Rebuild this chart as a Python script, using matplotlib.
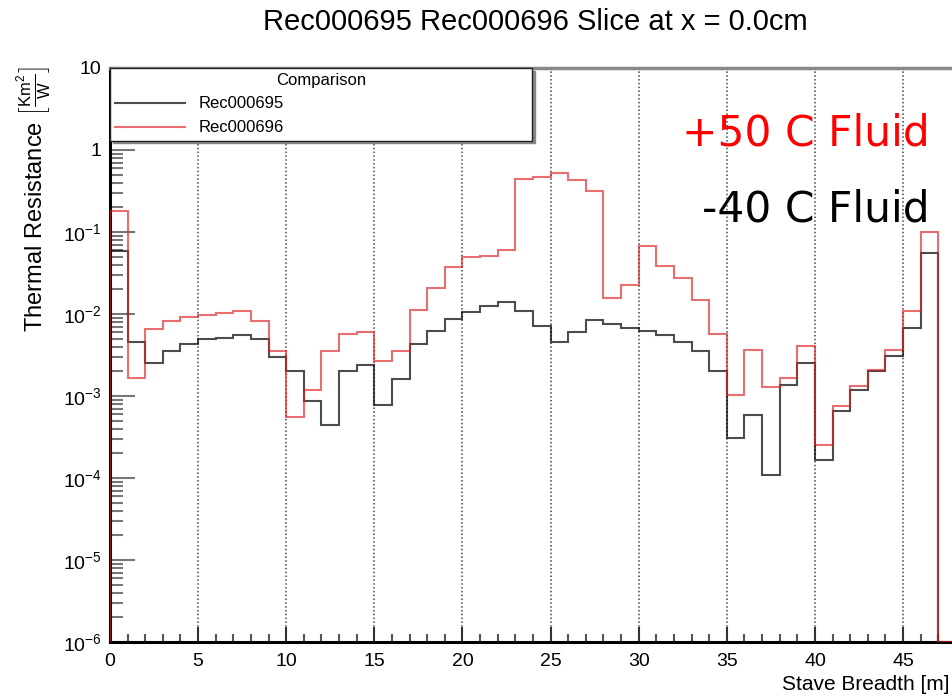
import numpy as np
import matplotlib
matplotlib.use("Agg")
import matplotlib.pyplot as plt
from matplotlib.ticker import FixedLocator, MultipleLocator, FuncFormatter, NullFormatter

plt.rcParams['font.family'] = ['Liberation Sans', 'DejaVu Sans']
plt.rcParams['mathtext.fontset'] = 'custom'
plt.rcParams['mathtext.rm'] = 'Liberation Sans'
plt.rcParams['mathtext.it'] = 'Liberation Sans:italic'
plt.rcParams['mathtext.bf'] = 'Liberation Sans:bold'

# ---- data ----
bin_edges = np.arange(0, 49)  # 48 bins of width 1 (last bin empty)
rec695 = [0.058, 0.0045, 0.0025, 0.0035, 0.0043, 0.0049, 0.0051, 0.0056, 0.0049, 0.0030,
          0.0020, 0.00088, 0.00044, 0.0020, 0.0024, 0.00078, 0.0016, 0.0043, 0.0062, 0.0088,
          0.0106, 0.0125, 0.0141, 0.0109, 0.0071, 0.0046, 0.0060, 0.0084, 0.0075, 0.0068,
          0.0062, 0.0056, 0.0046, 0.0035, 0.0020, 0.00031, 0.00059, 0.00011, 0.00135, 0.0025,
          0.000165, 0.00066, 0.0012, 0.0020, 0.0031, 0.0068, 0.055, 0.0]
rec696 = [0.178, 0.00167, 0.0065, 0.0082, 0.0093, 0.0097, 0.0104, 0.011, 0.0082, 0.0035,
          0.00055, 0.00119, 0.0035, 0.0057, 0.0061, 0.0027, 0.0035, 0.0112, 0.0208, 0.0377,
          0.049, 0.051, 0.061, 0.437, 0.468, 0.529, 0.426, 0.312, 0.0156, 0.0227,
          0.068, 0.039, 0.0271, 0.0148, 0.0057, 0.00104, 0.0036, 0.00128, 0.00167, 0.0041,
          0.00025, 0.00076, 0.00132, 0.0021, 0.0036, 0.0109, 0.100, 0.0]
series_names = ["Rec000695", "Rec000696"]
title = "Rec000695 Rec000696 Slice at x = 0.0cm"
y_decades = [-6, -5, -4, -3, -2, -1, 0, 1]

YMIN, YMAX = 1e-6, 10
XMIN, XMAX = 0, 48

W, H = 953, 696
fig = plt.figure(figsize=(W / 100, H / 100), dpi=100)
ax = fig.add_axes([110 / W, 1 - 642 / H, 846 / W, (642 - 68) / H])

def clip(v):
    return np.maximum(np.asarray(v, dtype=float), YMIN)

ax.stairs(clip(rec695), bin_edges, baseline=YMIN, color='black', alpha=0.7,
          linewidth=1.5, label=series_names[0], zorder=3)
ax.stairs(clip(rec696), bin_edges, baseline=YMIN, color='#dd2222', alpha=0.65,
          linewidth=1.5, label=series_names[1], zorder=4)

ax.set_yscale('log')
ax.set_xlim(XMIN, XMAX)
ax.set_ylim(YMIN, YMAX)

# ticks
ax.xaxis.set_major_locator(MultipleLocator(5))
ax.xaxis.set_minor_locator(MultipleLocator(1))
major_y = [10.0 ** k for k in y_decades]
minor_y = [m * 10.0 ** k for k in y_decades[:-1] for m in range(2, 10)]
ax.yaxis.set_major_locator(FixedLocator(major_y))
ax.yaxis.set_minor_locator(FixedLocator(minor_y))
ax.yaxis.set_minor_formatter(NullFormatter())

def yfmt(v, pos):
    k = int(round(np.log10(v)))
    if k == 1:
        return '10'
    if k == 0:
        return '1'
    return r'$10^{%d}$' % k
ax.yaxis.set_major_formatter(FuncFormatter(yfmt))

ax.tick_params(axis='y', which='major', direction='in', length=18, width=1.5,
               color='#777777', labelsize=14, pad=6, left=True, right=False)
ax.tick_params(axis='y', which='minor', direction='in', length=9, width=1.5,
               color='#777777', left=True, right=False)
ax.tick_params(axis='x', which='major', direction='in', length=11, width=1.5,
               color='#333333', labelsize=14, pad=8, bottom=True, top=False)
ax.tick_params(axis='x', which='minor', direction='in', length=6, width=1.5,
               color='#555555', bottom=True, top=False)

ax.grid(axis='x', which='major', color='#444444', linestyle=(0, (1, 1.5)), linewidth=1.1)
ax.set_axisbelow(True)

for s in ['left', 'bottom']:
    ax.spines[s].set_linewidth(2.2)
    ax.spines[s].set_color('black')
ax.spines['top'].set_linewidth(2.5)
ax.spines['top'].set_color('#888888')
ax.spines['right'].set_visible(False)

# legend
leg_x0, leg_x1, leg_y0, leg_y1 = 110, 532, 68, 138
bb = ((leg_x0) / W, 1 - leg_y1 / H, (leg_x1 - leg_x0) / W, (leg_y1 - leg_y0) / H)
leg = ax.legend(title='Comparison', loc='upper left', bbox_to_anchor=bb,
                bbox_transform=fig.transFigure, mode='expand', fontsize=12,
                title_fontsize=12, frameon=True, fancybox=False, framealpha=1,
                edgecolor='#222222', borderaxespad=0, borderpad=0.3,
                handlelength=4.2, handletextpad=0.8, labelspacing=0.55,
                shadow={'color': '#888888', 'alpha': 1})
leg.get_frame().set_linewidth(1.0)
leg._legend_box.sep = 6
leg.set_zorder(10)

# texts
fig.text(535 / W, 1 - 22 / H, title, ha='center', va='center', fontsize=21)
fig.text(34 / W, 1 - 66 / H,
         r'Thermal Resistance $\left[\frac{\mathrm{Km}^{2}}{\mathrm{W}}\right]$',
         rotation=90, ha='center', va='top', fontsize=17)
fig.text(950 / W, 1 - 684 / H, 'Stave Breadth [m]', ha='right', va='center', fontsize=15)

fig.text(930 / W, 1 - 145 / H, '+50 C Fluid', color='red', ha='right',
         va='baseline', fontsize=30.5, family=['DejaVu Sans'])
fig.text(930 / W, 1 - 221 / H, '-40 C Fluid', color='black', ha='right',
         va='baseline', fontsize=30.5, family=['DejaVu Sans'])

fig.savefig('out.png', dpi=100)
